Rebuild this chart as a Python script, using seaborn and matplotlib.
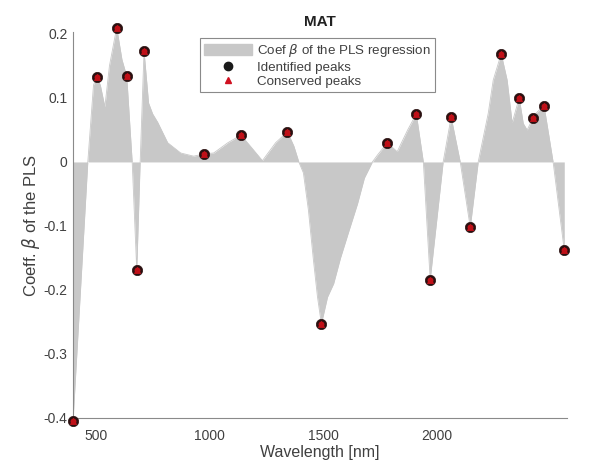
import matplotlib
matplotlib.use("Agg")
import matplotlib.pyplot as plt
import seaborn as sns
import numpy as np
import pandas as pd
from matplotlib.patches import Patch
from matplotlib.lines import Line2D

# Traced PLS coefficient outline (wavelength nm, coefficient)
curve_w = [400, 465, 490, 504, 520, 540, 560, 592, 615, 636, 660, 680, 695, 712,
           732, 750, 772, 816, 873, 930, 974, 1018, 1080, 1138, 1190, 1232, 1290, 1342,
           1370, 1392, 1412, 1434, 1456, 1474, 1491, 1518, 1545, 1575, 1610, 1650,
           1680, 1715, 1740, 1781, 1824, 1870, 1908, 1939, 1969, 2026, 2061, 2101,
           2145, 2180, 2224, 2246, 2281, 2307, 2329, 2360, 2378, 2395, 2421, 2439,
           2469, 2509, 2558]
curve_v = [-0.405, 0.0, 0.12, 0.133, 0.12, 0.086, 0.15, 0.21, 0.16, 0.134, 0.0,
           -0.169, 0.0, 0.173, 0.092, 0.075, 0.062, 0.030, 0.014, 0.009, 0.0125, 0.014,
           0.030, 0.042, 0.020, 0.002, 0.030, 0.047, 0.025, 0.0, -0.017, -0.075,
           -0.153, -0.211, -0.253, -0.211, -0.190, -0.150, -0.110, -0.065, -0.025,
           0.0, 0.012, 0.030, 0.016, 0.050, 0.075, 0.0, -0.184, 0.0, 0.070, 0.0,
           -0.102, 0.0, 0.076, 0.128, 0.169, 0.128, 0.061, 0.100, 0.060, 0.050,
           0.069, 0.078, 0.088, 0.0, -0.138]

# Peaks
peak_w = [400, 504, 592, 636, 680, 712, 974, 1138, 1342, 1491, 1781, 1908, 1969,
          2061, 2145, 2281, 2360, 2421, 2469, 2558]
peak_v = [-0.405, 0.133, 0.21, 0.134, -0.169, 0.173, 0.0125, 0.042, 0.047, -0.253,
          0.030, 0.075, -0.184, 0.070, -0.102, 0.169, 0.100, 0.069, 0.088, -0.138]

x_ticks = [500, 1000, 1500, 2000]
y_ticks = [-0.4, -0.3, -0.2, -0.1, 0, 0.1, 0.2]
y_ticklabels = ["-0.4", "-0.3", "-0.2", "-0.1", "0", "0.1", "0.2"]

sns.set_style("white")
plt.rcParams["font.family"] = ["Liberation Sans", "DejaVu Sans"]

txt = "#404040"
fig = plt.figure(figsize=(6.0, 4.67), dpi=100)
ax = fig.add_axes([73/600, 1-418/467, (567-73)/600, (418-32)/467])

curve = pd.DataFrame({"w": curve_w, "v": curve_v})
peaks = pd.DataFrame({"w": peak_w, "v": peak_v})

fill_col = "#c8c8c8"
ax.fill_between(curve["w"], 0, curve["v"], color=fill_col, lw=0, zorder=1)
sns.lineplot(data=curve, x="w", y="v", ax=ax, color=fill_col, lw=0.6, zorder=1,
             sort=False)
sns.scatterplot(data=peaks, x="w", y="v", ax=ax, marker="o", s=55, color="#2a1010",
                edgecolor="#2a1010", linewidth=0.5, zorder=3, clip_on=False)
sns.scatterplot(data=peaks, x="w", y="v", ax=ax, marker="^", s=22, color="#c8101a",
                edgecolor="#c8101a", linewidth=0.3, zorder=4, clip_on=False)
ax.scatter(peak_w, peak_v, marker="o", s=18, color="#c01018", lw=0, zorder=4,
           clip_on=False)

ax.set_xlim(400, 2570)
ax.set_ylim(-0.4, 0.203)
ax.set_xticks(x_ticks)
ax.set_xticklabels([str(t) for t in x_ticks])
ax.set_yticks(y_ticks)
ax.set_yticklabels(y_ticklabels)
for s in ["top", "right"]:
    ax.spines[s].set_visible(False)
for s in ["left", "bottom"]:
    ax.spines[s].set_color("#8a8a8a")
    ax.spines[s].set_linewidth(0.8)
ax.tick_params(direction="in", length=3, width=0.6, color="#8a8a8a",
               labelsize=10, labelcolor=txt, pad=4)
ax.tick_params(axis="x", pad=8)
ax.set_xlabel("Wavelength [nm]", fontsize=11.5, color=txt, labelpad=1)
ax.set_ylabel(r"Coeff. $\beta$ of the PLS", fontsize=12, color=txt, labelpad=1)
ax.set_title("MAT", fontsize=11, fontweight="bold", color="#222222", pad=4)

handles = [
    Patch(facecolor=fill_col, edgecolor=fill_col),
    Line2D([], [], marker="o", ls="", color="#1a1a1a", markersize=6),
    Line2D([], [], marker="^", ls="", color="#d01020", markersize=4.5),
]
labels = [r"Coef $\beta$ of the PLS regression", "Identified peaks", "Conserved peaks"]
leg = ax.legend(handles, labels, loc="upper left",
                bbox_to_anchor=((200-73)/494, (418-38)/386), borderaxespad=0,
                fontsize=9.6, frameon=True, fancybox=False, edgecolor="#8a8a8a",
                handlelength=3.6, handleheight=0.9, handletextpad=0.4,
                labelspacing=0.12, borderpad=0.3, framealpha=1)
leg.get_frame().set_linewidth(0.8)
for t in leg.get_texts():
    t.set_color(txt)

fig.savefig("out.png", dpi=100)
